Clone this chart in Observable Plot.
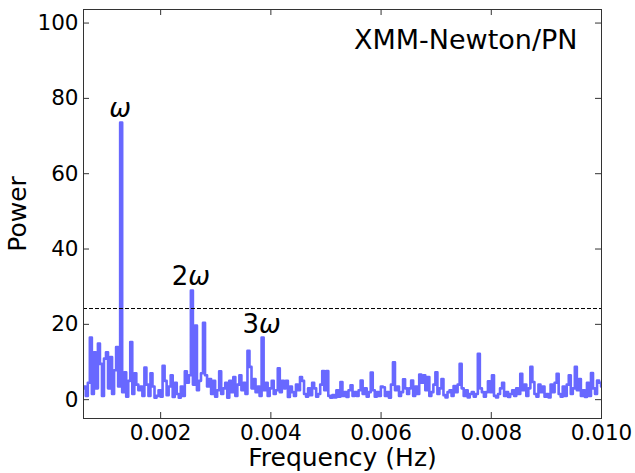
<!DOCTYPE html>
<html><head><meta charset="utf-8">
<script src="https://cdn.jsdelivr.net/npm/d3@7"></script>
<script src="https://cdn.jsdelivr.net/npm/@observablehq/plot@0.6"></script>
<style>body{margin:0;background:#fff}</style>
</head><body><div id="chart"></div>
<script>
// Fourier bins: frequency = bin index * bin width (Hz)
const firstBin = 16;
const binWidth = 3.667e-5;
const power = [
 3.0,3.5,1.0,4.5,16.5,1.5,12.6,3.0,14.9,9.5,
 1.0,10.9,12.6,3.0,11.3,1.5,7.8,14.0,3.5,73.6,
 2.0,7.3,0.8,5.0,15.3,1.5,7.0,4.0,2.5,3.5,
 1.0,8.5,4.0,1.0,7.0,3.5,0.5,1.0,2.5,0.8,
 9.0,5.0,1.2,3.5,6.5,0.7,4.5,1.5,0.5,3.5,
 1.0,7.5,4.5,6.5,29.0,4.0,19.7,2.5,5.0,7.0,
 20.4,6.5,3.5,5.5,1.5,5.0,0.8,2.5,7.5,1.5,
 3.0,4.5,0.5,5.0,2.0,6.0,1.0,4.0,6.5,2.5,
 4.5,1.5,13.0,8.7,3.0,5.5,2.0,3.5,1.0,16.5,
 2.5,4.5,1.0,3.0,5.0,1.5,2.5,8.3,2.0,5.0,
 3.0,5.0,0.7,3.5,2.0,1.0,4.0,2.5,6.0,5.0,
 1.5,0.8,3.0,1.2,4.5,3.0,0.8,1.5,4.0,7.6,
 2.5,7.6,1.0,0.5,1.2,0.6,2.5,0.8,4.7,1.0,
 2.0,0.7,2.5,3.8,1.0,2.0,1.0,2.5,5.1,1.5,
 3.0,0.8,2.0,7.2,2.5,0.8,2.0,1.0,3.5,3.3,
 1.0,2.0,0.5,4.0,9.9,2.5,3.5,1.0,2.0,5.4,
 3.0,1.5,3.0,5.1,1.0,3.5,1.5,6.7,4.5,6.5,
 2.5,6.0,1.0,2.0,4.0,7.3,1.5,3.0,5.5,1.2,
 0.6,2.0,2.5,1.0,3.6,2.0,4.0,9.5,3.0,1.0,
 2.5,0.6,1.5,2.0,0.8,1.5,12.2,3.0,2.0,0.8,
 2.0,4.9,2.0,6.5,1.0,0.6,1.5,3.0,4.5,1.0,
 2.0,0.7,1.5,2.5,1.0,3.0,1.5,6.9,2.5,4.0,
 1.0,3.0,8.7,4.7,1.5,0.8,4.0,2.0,3.5,0.8,
 1.5,0.6,4.0,2.0,4.5,6.9,1.5,0.8,3.5,1.0,
 4.0,6.5,1.5,3.0,8.7,2.5,5.5,1.0,2.5,0.7,
 4.5,1.0,7.1,3.0,1.5,5.1,4.5,3.5
];
const xTicks = [0.002, 0.004, 0.006, 0.008, 0.010];
const yTicks = [0, 20, 40, 60, 80, 100];
const threshold = [24.2];
const harmonicLabels = ["ω", "2ω", "3ω"];
const harmonicBins = [35, 70, 105];
const instrument = ["XMM-Newton/PN"];
const xLabel = ["Frequency (Hz)"];
const yLabel = ["Power"];

const series = power.map((p, k) => ({f: (firstBin + k) * binWidth, p}));
const peaks = harmonicBins.map((b, k) => ({f: b * binWidth, p: power[b - firstBin], t: harmonicLabels[k]}));

const W = 635, H = 473, mL = 83, mR = 34, mT = 9, mB = 55;
const plotW = W - mL - mR, plotH = H - mT - mB;
const font = "DejaVu Sans";

const chart = Plot.plot({
  width: W, height: H,
  marginLeft: mL, marginRight: mR, marginTop: mT, marginBottom: mB,
  style: {fontFamily: font, fontSize: "21.5px", background: "white", color: "black", overflow: "visible"},
  x: {domain: [0.0006, 0.010]},
  y: {domain: [-5, 103.6]},
  marks: [
    Plot.line(series, {x: "f", y: "p", curve: "step", stroke: "#6868ff", strokeWidth: 2.6, clip: true}),
    Plot.ruleY(threshold, {stroke: "black", strokeWidth: 1, strokeDasharray: "4,2"}),
    Plot.tickX(xTicks, {x: d => d, insetTop: plotH - 6, stroke: "#333"}),
    Plot.tickX(xTicks, {x: d => d, insetBottom: plotH - 6, stroke: "#333"}),
    Plot.tickY(yTicks, {y: d => d, insetRight: plotW - 6, stroke: "#333"}),
    Plot.tickY(yTicks, {y: d => d, insetLeft: plotW - 6, stroke: "#333"}),
    Plot.axisX({ticks: xTicks, tickSize: 0, tickPadding: 6, tickFormat: d3.format(".3f"), label: null}),
    Plot.axisY({ticks: yTicks, tickSize: 0, tickPadding: 5, label: null}),
    Plot.frame({stroke: "#333"}),
    Plot.text(peaks, {x: "f", y: "p", text: "t", lineAnchor: "bottom", dx: -1, dy: -5, fontSize: 26, fill: "black"}),
    Plot.text(instrument, {frameAnchor: "top-right", dx: -24, dy: 20, fontSize: 27, fill: "black"}),
    Plot.text(xLabel, {frameAnchor: "bottom", textAnchor: "middle", lineAnchor: "top", dy: 30, fontSize: 25, fill: "black"}),
    Plot.text(yLabel, {frameAnchor: "left", textAnchor: "middle", rotate: -90, dx: -66, fontSize: 25, fill: "black"})
  ]
});
document.getElementById("chart").appendChild(chart);

// Mixed style for harmonic labels: digit upright, omega italic
chart.querySelectorAll("text").forEach(t => {
  const s = t.textContent;
  if (/ω$/.test(s) && t.children.length === 0) {
    const num = s.slice(0, -1);
    t.textContent = "";
    if (num) {
      const a = document.createElementNS("http://www.w3.org/2000/svg", "tspan");
      a.textContent = num;
      t.appendChild(a);
    }
    const b = document.createElementNS("http://www.w3.org/2000/svg", "tspan");
    b.setAttribute("font-style", "italic");
    b.textContent = "ω";
    t.appendChild(b);
  }
});
</script>
</body></html>
